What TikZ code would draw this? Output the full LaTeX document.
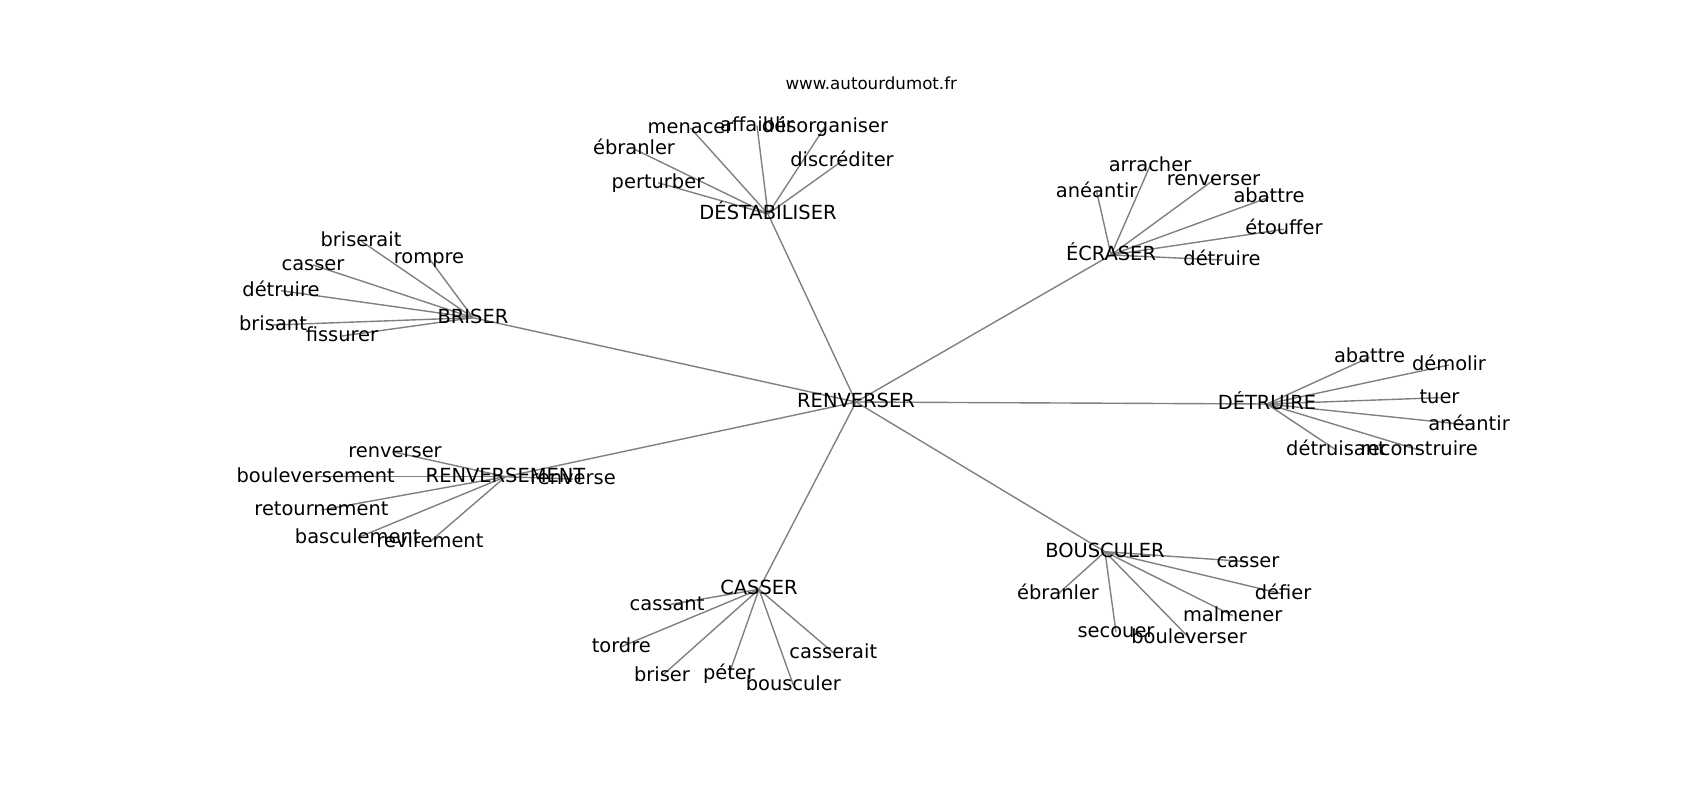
\documentclass[tikz,border=0pt]{standalone}
\usepackage{fontspec}
\setmainfont{DejaVu Sans}
\usetikzlibrary{backgrounds}

\tikzset{
  word/.style={inner sep=0pt, text height=15pt, text depth=4.4pt,
    font=\fontsize{19.44}{23}\selectfont},
  link/.style={draw=gray, line width=1.4pt}
}

\begin{document}
\begin{tikzpicture}[x=1pt,y=-1pt]
\useasboundingbox (0,0) rectangle (1700,800);

%title
\node (title) [anchor=base, inner sep=0pt, font=\fontsize{16.67}{20}\selectfont]
  at (871.25,89) {www.autourdumot.fr};

%centre
\node [word] (ren) at (856,402) {RENVERSER};

%%%%%% DESTABILISER
\node [word] (destab) at (768,214) {DÉSTABILISER};
\node [word] (destab-menacer) at (690.5,128) {menacer};
\node [word] (destab-affaiblir) at (757,125.7) {affaiblir};
\node [word] (destab-desorg) at (825,126.7) {désorganiser};
\node [word] (destab-ebranler) at (634,149) {ébranler};
\node [word] (destab-discred) at (842,161) {discréditer};
\node [word] (destab-perturber) at (658,182.7) {perturber};

%%%%%% BRISER
\node [word] (briser) at (473,317.7) {BRISER};
\node [word] (briser-briserait) at (361,241) {briserait};
\node [word] (briser-rompre) at (429,258.3) {rompre};
\node [word] (briser-casser) at (313,265) {casser};
\node [word] (briser-detruire) at (281,290.7) {détruire};
\node [word] (briser-brisant) at (273,325) {brisant};
\node [word] (briser-fissurer) at (342,336) {fissurer};

%%%%%% RENVERSEMENT
\node [word] (renvmt) at (505.5,476.7) {RENVERSEMENT};
\node [word] (renvmt-renverser) at (395,452.3) {renverser};
\node [word] (renvmt-boulev) at (315.7,476.7) {bouleversement};
\node [word] (renvmt-renverse) at (573,479) {renverse};
\node [word] (renvmt-retourn) at (321.5,510) {retournement};
\node [word] (renvmt-bascul) at (357.7,537.7) {basculement};
\node [word] (renvmt-revir) at (430,541.7) {revirement};

%%%%%% ECRASER
\node [word] (ecraser) at (1111,255) {ÉCRASER};
\node [word] (ecraser-aneantir) at (1096.7,191.7) {anéantir};
\node [word] (ecraser-arracher) at (1150,166) {arracher};
\node [word] (ecraser-renverser) at (1213.5,180) {renverser};
\node [word] (ecraser-abattre) at (1269,197.3) {abattre};
\node [word] (ecraser-etouffer) at (1284,229.3) {étouffer};
\node [word] (ecraser-detruire) at (1222,260) {détruire};

%%%%%% DETRUIRE
\node [word] (detruire) at (1267,404) {DÉTRUIRE};
\node [word] (detruire-abattre) at (1369.5,357.3) {abattre};
\node [word] (detruire-demolir) at (1449,365) {démolir};
\node [word] (detruire-tuer) at (1439.5,397.7) {tuer};
\node [word] (detruire-aneantir) at (1469,425) {anéantir};
\node [word] (detruire-detruisant) at (1336,450) {détruisant};
\node [word] (detruire-reconstr) at (1419,450) {reconstruire};

%%%%%% BOUSCULER
\node [word] (bousc) at (1105,551.7) {BOUSCULER};
\node [word] (bousc-casser) at (1248,561.7) {casser};
\node [word] (bousc-ebranler) at (1058,594) {ébranler};
\node [word] (bousc-defier) at (1283,594) {défier};
\node [word] (bousc-malmener) at (1232.7,615.7) {malmener};
\node [word] (bousc-secouer) at (1116,632.3) {secouer};
\node [word] (bousc-boulev) at (1189,637.7) {bouleverser};

%%%%%% CASSER
\node [word] (casser) at (759,589.3) {CASSER};
\node [word] (casser-cassant) at (667,605) {cassant};
\node [word] (casser-tordre) at (621.3,646.7) {tordre};
\node [word] (casser-briser) at (662,675.7) {briser};
\node [word] (casser-peter) at (729,674.3) {péter};
\node [word] (casser-bousculer) at (793.3,685) {bousculer};
\node [word] (casser-casserait) at (833.3,652.7) {casserait};

%links, under the words
\begin{scope}[on background layer]
\foreach \g in {destab,briser,renvmt,ecraser,detruire,bousc,casser}
  \draw [link] (ren.center) -- (\g.center);
\foreach \n in {menacer,affaiblir,desorg,ebranler,discred,perturber}
  \draw [link] (destab.center) -- (destab-\n.center);
\foreach \n in {briserait,rompre,casser,detruire,brisant,fissurer}
  \draw [link] (briser.center) -- (briser-\n.center);
\foreach \n in {renverser,boulev,renverse,retourn,bascul,revir}
  \draw [link] (renvmt.center) -- (renvmt-\n.center);
\foreach \n in {aneantir,arracher,renverser,abattre,etouffer,detruire}
  \draw [link] (ecraser.center) -- (ecraser-\n.center);
\foreach \n in {abattre,demolir,tuer,aneantir,detruisant,reconstr}
  \draw [link] (detruire.center) -- (detruire-\n.center);
\foreach \n in {casser,ebranler,defier,malmener,secouer,boulev}
  \draw [link] (bousc.center) -- (bousc-\n.center);
\foreach \n in {cassant,tordre,briser,peter,bousculer,casserait}
  \draw [link] (casser.center) -- (casser-\n.center);
\end{scope}

\end{tikzpicture}
\end{document}
